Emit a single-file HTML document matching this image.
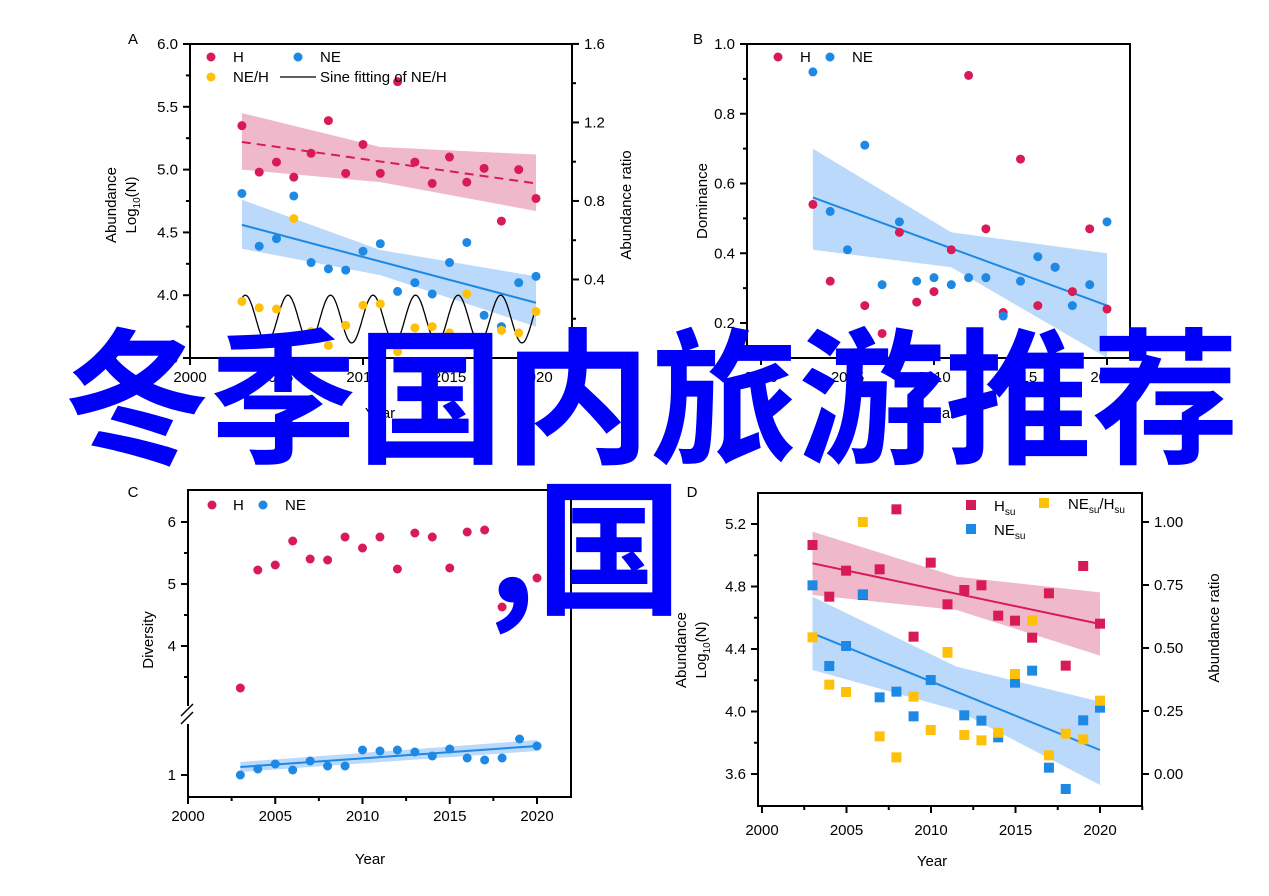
<!DOCTYPE html>
<html><head><meta charset="utf-8"><style>
body{margin:0;background:#fff;width:1269px;height:896px;overflow:hidden;position:relative;font-family:"Liberation Sans",sans-serif}
svg{position:absolute;left:0;top:0}
.big{position:absolute;font-family:"Noto Sans CJK SC","WenQuanYi Zen Hei",sans-serif;font-weight:700;color:#0000fa;font-size:147px;line-height:147px;white-space:nowrap}
</style></head><body>
<svg id="s" width="1269" height="896" xmlns="http://www.w3.org/2000/svg" font-family="Liberation Sans, sans-serif" font-size="15"></svg>
<div class="big" style="left:63px;top:315px">冬季国内旅游推荐</div>
<div class="big" style="left:488px;top:466px">,国</div>
<script>
const S=document.getElementById('s');let h='';
const R='#d81b55',B='#1e88e5',Y='#ffc107';
function line(x1,y1,x2,y2,c='#000',w=2,d=''){h+=`<line x1="${x1}" y1="${y1}" x2="${x2}" y2="${y2}" stroke="${c}" stroke-width="${w}" ${d?`stroke-dasharray="${d}"`:''}/>`}
function txt(x,y,t,a='middle',fs=15,extra=''){h+=`<text x="${x}" y="${y}" text-anchor="${a}" font-size="${fs}" ${extra}>${t}</text>`}
function dot(x,y,c,r=4.5){h+=`<circle cx="${x}" cy="${y}" r="${r}" fill="${c}"/>`}
function sq(x,y,c){h+=`<rect x="${x-5}" y="${y-5}" width="10" height="10" fill="${c}"/>`}
function band(pts,c){h+=`<path d="M${pts.map(p=>p[0]+','+p[1]).join(' L')} Z" fill="${c}"/>`}
function box(l,t,r,b){h+=`<rect x="${l}" y="${t}" width="${r-l}" height="${b-t}" fill="none" stroke="#000" stroke-width="2"/>`}
// ---- Panel A
{const X=y=>190+(y-2000)*17.3, Yv=v=>44+(6-v)*125.6;
 band([[X(2003),Yv(5.45)],[X(2011),Yv(5.18)],[X(2020),Yv(5.12)],[X(2020),Yv(4.67)],[X(2011),Yv(4.9)],[X(2003),Yv(5.0)]],'rgba(220,100,140,0.45)');
 band([[X(2003),Yv(4.76)],[X(2011),Yv(4.36)],[X(2020),Yv(4.15)],[X(2020),Yv(3.75)],[X(2011),Yv(4.16)],[X(2003),Yv(4.37)]],'rgba(120,180,245,0.5)');
 line(X(2003),Yv(5.22),X(2020),Yv(4.89),R,2,'9,6');
 line(X(2003),Yv(4.56),X(2020),Yv(3.94),B,2);
 let p='';for(let t=2003;t<=2020.01;t+=0.05){const v=3.81+0.19*Math.sin(2*Math.PI*(t-2003.2)/2.46+Math.PI/2);p+=(p?' L':'M')+X(t).toFixed(1)+','+Yv(v).toFixed(1)}
 h+=`<path d="${p}" fill="none" stroke="#000" stroke-width="1.3"/>`;
 const Hd=[5.35,4.98,5.06,4.94,5.13,5.39,4.97,5.2,4.97,5.7,5.06,4.89,5.1,4.9,5.01,4.59,5.0,4.77];
 const Nd=[4.81,4.39,4.45,4.79,4.26,4.21,4.2,4.35,4.41,4.03,4.1,4.01,4.26,4.42,3.84,3.75,4.1,4.15];
 const Yd=[3.95,3.9,3.89,4.61,3.71,3.6,3.76,3.92,3.93,3.55,3.74,3.75,3.7,4.01,3.6,3.72,3.7,3.87];
 Hd.forEach((v,i)=>dot(X(2003+i),Yv(v),R));Nd.forEach((v,i)=>dot(X(2003+i),Yv(v),B));Yd.forEach((v,i)=>dot(X(2003+i),Yv(v),Y));
 box(190,44,572,358);
 [6,5.5,5,4.5,4,3.5].forEach(v=>{line(190,Yv(v),183,Yv(v));txt(178,Yv(v)+5,v.toFixed(1),'end',15)});
 [5.75,5.25,4.75,4.25,3.75].forEach(v=>line(190,Yv(v),186,Yv(v)));
 [0,0.4,0.8,1.2,1.6].forEach(v=>{const y=358-v*196.3;line(572,y,579,y);txt(584,y+5,v.toFixed(1),'start',15)});
 [0.2,0.6,1.0,1.4].forEach(v=>{const y=358-v*196.3;line(572,y,576,y)});
 [2000,2005,2010,2015,2020].forEach(t=>{line(X(t),358,X(t),365);txt(X(t),382,t)});
 txt(380,418,'Year');
 txt(133,44,'A','middle',15);
 h+=`<text transform="translate(116,205) rotate(-90)" text-anchor="middle" font-size="15">Abundance</text>`;
 h+=`<text transform="translate(136,205) rotate(-90)" text-anchor="middle" font-size="15">Log<tspan font-size="10" dy="4">10</tspan><tspan dy="-4">(N)</tspan></text>`;
 h+=`<text transform="translate(631,205) rotate(-90)" text-anchor="middle" font-size="15">Abundance ratio</text>`;
 dot(211,57,R);txt(233,62,'H','start');dot(298,57,B);txt(320,62,'NE','start');
 dot(211,77,Y);txt(233,82,'NE/H','start');line(280,77,316,77,'#000',1.3);txt(320,82,'Sine fitting of NE/H','start');
}
// ---- Panel B
{const X=y=>761+(y-2000)*17.3, Yv=v=>44+(1-v)*348.75;
 band([[X(2003),Yv(0.70)],[X(2011),Yv(0.46)],[X(2020),Yv(0.40)],[X(2020),Yv(0.10)],[X(2011),Yv(0.36)],[X(2003),Yv(0.41)]],'rgba(120,180,245,0.5)');
 line(X(2003),Yv(0.56),X(2020),Yv(0.25),B,2);
 const Hd=[0.54,0.32,null,0.25,0.17,0.46,0.26,0.29,0.41,0.91,0.47,0.23,0.67,0.25,0.36,0.29,0.47,0.24];
 const Nd=[0.92,0.52,0.41,0.71,0.31,0.49,0.32,0.33,0.31,0.33,0.33,0.22,0.32,0.39,0.36,0.25,0.31,0.49];
 Hd.forEach((v,i)=>{if(v!==null)dot(X(2003+i),Yv(v),R)});Nd.forEach((v,i)=>dot(X(2003+i),Yv(v),B));
 box(747,44,1130,358);
 [1,0.8,0.6,0.4,0.2].forEach(v=>{line(747,Yv(v),740,Yv(v));txt(735,Yv(v)+5,v.toFixed(1),'end')});
 [0.9,0.7,0.5,0.3].forEach(v=>line(747,Yv(v),743,Yv(v)));
 [2000,2005,2010,2015,2020].forEach(t=>{line(X(t),358,X(t),365);txt(X(t),382,t)});
 txt(940,418,'Year');txt(698,44,'B');
 h+=`<text transform="translate(707,201) rotate(-90)" text-anchor="middle" font-size="15">Dominance</text>`;
 dot(778,57,R);txt(800,62,'H','start');dot(830,57,B);txt(852,62,'NE','start');
}
// ---- Panel C
{const X=y=>188+(y-2000)*17.45;
 band([[X(2003),762],[X(2020),740],[X(2020),751],[X(2003),772]],'rgba(120,180,245,0.5)');
 line(X(2003),767,X(2020),746,B,2);
 const Hd=[688,570,565,541,559,560,537,548,537,569,533,537,568,532,530,607,597,578];
 const Nd=[775,769,764,770,761,766,766,750,751,750,752,756,749,758,760,758,739,746];
 Hd.forEach((v,i)=>dot(X(2003+i),v,R));Nd.forEach((v,i)=>dot(X(2003+i),v,B));
 h+=`<rect x="188" y="490" width="383" height="307" fill="none" stroke="#000" stroke-width="2"/>`;
 h+=`<rect x="182" y="706" width="12" height="18" fill="#fff"/>`;
 line(181,716,193,704,'#000',1.5);line(181,724,193,712,'#000',1.5);
 [[6,522],[5,584],[4,646],[1,775]].forEach(([v,y])=>{line(188,y,181,y);txt(176,y+5,v,'end')});
 [553,615,677].forEach(y=>line(188,y,184,y));
 [2000,2005,2010,2015,2020].forEach(t=>{line(X(t),797,X(t),804);txt(X(t),821,t)});
 [2002.5,2007.5,2012.5,2017.5].forEach(t=>line(X(t),797,X(t),801));
 txt(370,864,'Year');txt(133,497,'C');
 h+=`<text transform="translate(153,640) rotate(-90)" text-anchor="middle" font-size="15">Diversity</text>`;
 dot(212,505,R);txt(233,510,'H','start');dot(263,505,B);txt(285,510,'NE','start');
}
// ---- Panel D
{const zx=x=>660+x/2.8, zy=y=>480+y/3;
 band([[zx(427),zy(155)],[zx(830),zy(290)],[zx(1232),zy(337)],[zx(1232),zy(527)],[zx(830),zy(390)],[zx(427),zy(345)]],'rgba(220,100,140,0.45)');
 band([[zx(427),zy(350)],[zx(830),zy(560)],[zx(1232),zy(665)],[zx(1232),zy(915)],[zx(830),zy(690)],[zx(427),zy(570)]],'rgba(120,180,245,0.5)');
 line(zx(427),zy(250),zx(1232),zy(432),R,2);
 line(zx(427),zy(460),zx(1232),zy(810),B,2);
 const xs=[427,474,521,568,615,662,710,758,805,852,900,947,994,1042,1089,1136,1185,1232];
 const Rd=[195,350,272,345,268,88,470,248,373,330,316,407,422,473,340,557,258,431];
 const Bd=[316,558,498,343,652,635,709,600,517,706,722,772,608,572,863,927,721,683];
 const Yd=[472,614,636,126,769,832,650,750,516,765,781,758,582,421,826,761,778,662];
 xs.forEach((x,i)=>sq(zx(x),zy(Rd[i]),R));xs.forEach((x,i)=>sq(zx(x),zy(Bd[i]),B));xs.forEach((x,i)=>sq(zx(x),zy(Yd[i]),Y));
 box(758,493,1142,806);
 const Yv=v=>524+(5.2-v)*156.25;
 [5.2,4.8,4.4,4.0,3.6].forEach(v=>{line(758,Yv(v),751,Yv(v));txt(746,Yv(v)+5,v.toFixed(1),'end')});
 [5.0,4.6,4.2,3.8].forEach(v=>line(758,Yv(v),754,Yv(v)));
 [1,0.75,0.5,0.25,0].forEach(v=>{const y=774-v*252;line(1142,y,1149,y);txt(1154,y+5,v.toFixed(2),'start')});
 const X=t=>762+(t-2000)*16.9;
 [2000,2005,2010,2015,2020].forEach(t=>{line(X(t),806,X(t),813);txt(X(t),835,t)});
 [2002.5,2007.5,2012.5,2017.5,2022.5].forEach(t=>line(X(t),806,X(t),810));
 txt(932,866,'Year');txt(692,497,'D');
 h+=`<text transform="translate(686,650) rotate(-90)" text-anchor="middle" font-size="15">Abundance</text>`;
 h+=`<text transform="translate(706,650) rotate(-90)" text-anchor="middle" font-size="15">Log<tspan font-size="10" dy="4">10</tspan><tspan dy="-4">(N)</tspan></text>`;
 h+=`<text transform="translate(1219,628) rotate(-90)" text-anchor="middle" font-size="15">Abundance ratio</text>`;
 sq(971,505,R);txt(994,511,'H<tspan font-size="10" dy="4">su</tspan>','start');
 sq(1044,503,Y);txt(1068,509,'NE<tspan font-size="10" dy="4">su</tspan><tspan dy="-4">/H</tspan><tspan font-size="10" dy="4">su</tspan>','start');
 sq(971,529,B);txt(994,535,'NE<tspan font-size="10" dy="4">su</tspan>','start');
}
S.innerHTML=h;
</script>
</body></html>
